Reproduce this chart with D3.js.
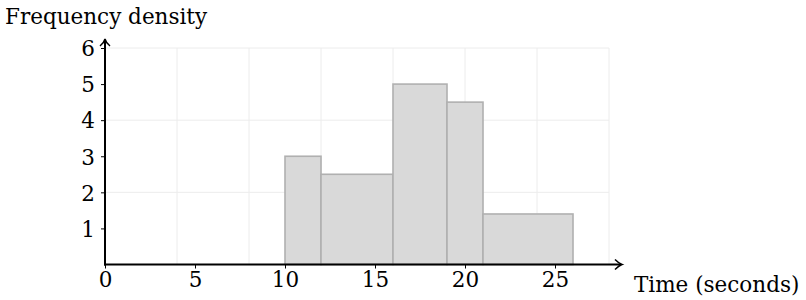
<!DOCTYPE html>
<html><head><meta charset="utf-8">
<script src="https://cdn.jsdelivr.net/npm/d3@7"></script>
<style>body{margin:0;background:#fff}svg{display:block}</style>
</head><body><svg id="c" width="806" height="300"></svg>
<script>
const binStarts = [10, 12, 16, 19, 21];
const binEnds = [12, 16, 19, 21, 26];
const densities = [3, 2.5, 5, 4.5, 1.4];
const xTicks = [0, 5, 10, 15, 20, 25];
const yTicks = [1, 2, 3, 4, 5, 6];
const xGrid = [4, 8, 12, 16, 20, 24, 28];
const yGrid = [2, 4, 6];
const xLabel = "Time (seconds)";
const yLabel = "Frequency density";

const svg = d3.select("#c");
const font = "'DejaVu Serif', 'Liberation Serif', serif";
const fs = 21.5;
const x = d3.scaleLinear().domain([0, 28]).range([105, 609]);
const y = d3.scaleLinear().domain([0, 6]).range([264.5, 48]);

// grid
svg.append("g").selectAll("line").data(xGrid).join("line")
  .attr("x1", d => x(d)).attr("x2", d => x(d)).attr("y1", y(0)).attr("y2", y(6))
  .attr("stroke", "#ececec").attr("stroke-width", 1);
svg.append("g").selectAll("line").data(yGrid).join("line")
  .attr("x1", x(0)).attr("x2", x(28)).attr("y1", d => y(d)).attr("y2", d => y(d))
  .attr("stroke", "#ececec").attr("stroke-width", 1);

// bars
svg.append("g").selectAll("rect").data(densities).join("rect")
  .attr("x", (d, i) => x(binStarts[i]))
  .attr("width", (d, i) => x(binEnds[i]) - x(binStarts[i]))
  .attr("y", d => y(d))
  .attr("height", d => y(0) - y(d))
  .attr("fill", "#d9d9d9").attr("stroke", "#b0b0b0").attr("stroke-width", 1.6);

// axes
const xAxis = d3.axisBottom(x).tickValues(xTicks).tickSize(4).tickFormat(d3.format("d"));
const gx = svg.append("g").attr("transform", `translate(0,${y(0)})`).call(xAxis);
gx.select(".domain").remove();
gx.selectAll(".tick line").attr("stroke", "#000").attr("stroke-width", 1);
gx.selectAll(".tick text").attr("font-family", font).attr("font-size", fs).attr("fill", "#000").attr("dy", "0.95em").attr("y", 2);

const yAxis = d3.axisLeft(y).tickValues(yTicks).tickSize(4).tickFormat(d3.format("d"));
const gy = svg.append("g").attr("transform", `translate(${x(0)},0)`).call(yAxis);
gy.select(".domain").remove();
gy.selectAll(".tick line").attr("stroke", "#000").attr("stroke-width", 1);
gy.selectAll(".tick text").attr("font-family", font).attr("font-size", fs).attr("fill", "#000").attr("x", -10).attr("dy", "0.36em");

// axis lines with arrows
svg.append("line").attr("x1", x(0) - 1).attr("x2", 621).attr("y1", y(0)).attr("y2", y(0))
  .attr("stroke", "#000").attr("stroke-width", 2);
svg.append("path").attr("d", `M615,${y(0)-5} Q619,${y(0)-1} 622,${y(0)} Q619,${y(0)+1} 615,${y(0)+5}`)
  .attr("fill", "none").attr("stroke", "#000").attr("stroke-width", 1.5);
svg.append("line").attr("x1", x(0)).attr("x2", x(0)).attr("y1", y(0) + 1).attr("y2", 40)
  .attr("stroke", "#000").attr("stroke-width", 2);
svg.append("path").attr("d", `M${x(0)-5},46 Q${x(0)-1},43 ${x(0)},39 Q${x(0)+1},43 ${x(0)+5},46`)
  .attr("fill", "none").attr("stroke", "#000").attr("stroke-width", 1.5);

// labels
svg.append("text").attr("x", 634).attr("y", 292).text(xLabel)
  .attr("font-family", font).attr("font-size", fs).attr("fill", "#000");
svg.append("text").attr("x", 5).attr("y", 24).text(yLabel)
  .attr("font-family", font).attr("font-size", fs).attr("fill", "#000");
</script></body></html>
